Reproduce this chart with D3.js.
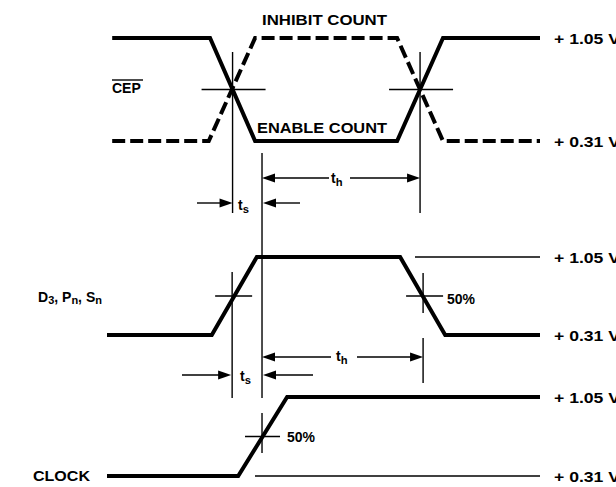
<!DOCTYPE html>
<html><head><meta charset="utf-8">
<script src="https://cdn.jsdelivr.net/npm/d3@7"></script>
<style>
html,body{margin:0;padding:0;background:#fff;}
svg text{font-family:"Liberation Sans",Arial,Helvetica,sans-serif;font-weight:bold;fill:#000;}
</style></head>
<body>
<script>
// ---- data (time in arbitrary units 0..100, level in volts) ----
const levels = [0.31, 1.05];
const levelLabels = ["+ 0.31 V", "+ 1.05 V"];
const signalNames = ["CEP", "D3, Pn, Sn", "CLOCK"];

const cepSolidT = [1.2, 23.8, 34.2, 67.0, 77.6, 100];
const cepSolidV = [1.05, 1.05, 0.31, 0.31, 1.05, 1.05];
const cepDashT  = [1.2, 23.5, 34.2, 67.0, 77.6, 100];
const cepDashV  = [0.31, 0.31, 1.05, 1.05, 0.31, 0.31];
const dataT = [0, 24.2, 34.6, 67.7, 78.1, 100];
const dataV = [0.31, 0.31, 1.05, 1.05, 0.31, 0.31];
const clockT = [0, 30.3, 41.6, 100];
const clockV = [0.31, 0.31, 1.05, 1.05];

// 50% crossing times
const cepCross = [29.0, 72.3];
const dataCross = [28.9, 73.0];
const clockCross = [35.8];

// ---- layout ----
const W = 616, H = 487;
const svg = d3.select("body").append("svg").attr("width", W).attr("height", H);
const x = d3.scaleLinear().domain([0, 100]).range([107, 540]);
const yCep = d3.scaleLinear().domain([0.31, 1.05]).range([141, 38]);
const yData = d3.scaleLinear().domain([0.31, 1.05]).range([335, 257]);
const yClock = d3.scaleLinear().domain([0.31, 1.05]).range([476, 397]);

function wave(T, V, y) {
  return d3.line().x((d, i) => x(T[i])).y((d, i) => y(V[i]))(T);
}
const thick = 4;
svg.append("path").attr("d", wave(cepSolidT, cepSolidV, yCep))
  .attr("fill", "none").attr("stroke", "#000").attr("stroke-width", thick).attr("stroke-linejoin", "miter");
svg.append("path").attr("d", wave(cepDashT, cepDashV, yCep))
  .attr("fill", "none").attr("stroke", "#000").attr("stroke-width", thick).attr("stroke-dasharray", "13,5");
svg.append("path").attr("d", wave(dataT, dataV, yData))
  .attr("fill", "none").attr("stroke", "#000").attr("stroke-width", thick);
svg.append("path").attr("d", wave(clockT, clockV, yClock))
  .attr("fill", "none").attr("stroke", "#000").attr("stroke-width", thick);

const thin = g => g.attr("stroke", "#000").attr("stroke-width", 1.4).attr("fill", "none");
function hline(x1, x2, y) { svg.append("line").attr("x1", x1).attr("x2", x2).attr("y1", y).attr("y2", y).call(thin); }
function vline(xp, y1, y2) { svg.append("line").attr("x1", xp).attr("x2", xp).attr("y1", y1).attr("y2", y2).call(thin); }

// crosshairs at 50%
const m = (levels[0] + levels[1]) / 2;
cepCross.forEach(t => hline(x(t) - 31, x(t) + 33, yCep(m)));
dataCross.forEach(t => hline(x(t) - 17, x(t) + 20, yData(m)));
clockCross.forEach(t => hline(x(t) - 17, x(t) + 18, yClock(m)));

// vertical reference lines
vline(x(cepCross[0]), 52, 213);
vline(x(cepCross[1]), 52, 213);
vline(x(clockCross[0]), 153, 398);
vline(x(dataCross[0]), 272, 398);
vline(x(dataCross[1]), 273, 313);
vline(x(dataCross[1]), 338, 383);
vline(x(clockCross[0]), 413, 453);

// thin level reference lines
hline(415, x(100), yData(1.05));
hline(255, x(100), yClock(0.31));

// arrows
function arrow(xTail, xHead, y) {
  const dir = xHead > xTail ? 1 : -1;
  const L = 13, hw = 4.5;
  svg.append("line").attr("x1", xTail).attr("x2", xHead - dir * L + dir).attr("y1", y).attr("y2", y).call(thin);
  svg.append("path").attr("d", `M${xHead},${y}L${xHead - dir * L},${y - hw}L${xHead - dir * L},${y + hw}Z`).attr("fill", "#000");
}
function subText(xp, yp, main, sub, size) {
  const t = svg.append("text").attr("x", xp).attr("y", yp).attr("font-size", size);
  t.append("tspan").text(main);
  t.append("tspan").attr("dy", 3).attr("font-size", size * 0.8).text(sub);
  return t;
}
// top: th and ts
arrow(329, x(clockCross[0]), 178);
arrow(350, x(cepCross[1]), 178);
subText(331, 183, "t", "h", 14);
arrow(197, x(cepCross[0]), 203);
arrow(300, x(clockCross[0]) + 1, 203);
subText(238, 210, "t", "s", 14);
// middle: th and ts
arrow(331, x(clockCross[0]), 357);
arrow(357, x(dataCross[1]), 357);
subText(336, 361, "t", "h", 14);
arrow(182, x(dataCross[0]) - 1, 375);
arrow(313, x(clockCross[0]) + 1, 375);
subText(240, 381, "t", "s", 14);

// percent labels
svg.append("text").attr("x", 447).attr("y", 304).attr("font-size", 14).text("50%");
svg.append("text").attr("x", 287).attr("y", 442).attr("font-size", 14).text("50%");

// state labels
svg.append("text").attr("x", 262).attr("y", 25).attr("font-size", 14.5)
  .attr("textLength", 125).attr("lengthAdjust", "spacingAndGlyphs").text("INHIBIT COUNT");
svg.append("text").attr("x", 257).attr("y", 133).attr("font-size", 14.5)
  .attr("textLength", 130).attr("lengthAdjust", "spacingAndGlyphs").text("ENABLE COUNT");

// level labels on the right
[yCep, yData, yClock].forEach(y => {
  levels.forEach((v, i) => {
    svg.append("text").attr("x", 554).attr("y", y(v) + 5.5).attr("font-size", 15)
      .attr("textLength", 66).attr("lengthAdjust", "spacingAndGlyphs").text(levelLabels[i]);
  });
});

// signal names
svg.append("text").attr("x", 112).attr("y", 93).attr("font-size", 14).text(signalNames[0]);
svg.append("line").attr("x1", 112).attr("x2", 143).attr("y1", 80).attr("y2", 80).attr("stroke", "#000").attr("stroke-width", 1.4);
const dl = svg.append("text").attr("x", 38).attr("y", 302).attr("font-size", 14);
dl.append("tspan").text("D");
dl.append("tspan").attr("dy", 2).attr("font-size", 11).text("3");
dl.append("tspan").attr("dy", -2).text(", P");
dl.append("tspan").attr("dy", 2).attr("font-size", 11).text("n");
dl.append("tspan").attr("dy", -2).text(", S");
dl.append("tspan").attr("dy", 2).attr("font-size", 11).text("n");
svg.append("text").attr("x", 33).attr("y", 481).attr("font-size", 14.5)
  .attr("textLength", 57).attr("lengthAdjust", "spacingAndGlyphs").text(signalNames[2]);
</script>
</body></html>
